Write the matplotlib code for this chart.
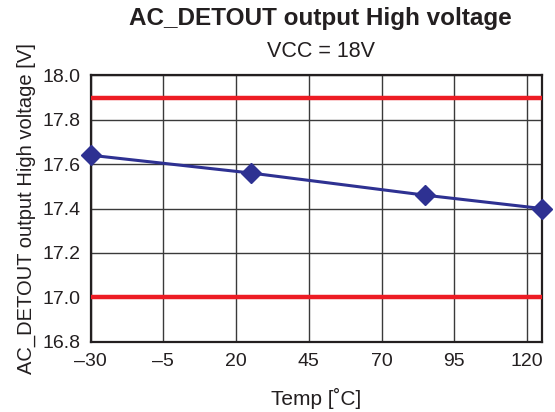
import matplotlib
matplotlib.use("Agg")
import matplotlib.pyplot as plt

plt.rcParams['font.family'] = ['Liberation Sans', 'DejaVu Sans']

temps = [-30, 25, 85, 125]
voltage = [17.64, 17.56, 17.46, 17.40]
limit_high = 17.9
limit_low = 17.0
x_ticks = [-30, -5, 20, 45, 70, 95, 120]
x_tick_labels = ['\u201330', '\u20135', '20', '45', '70', '95', '120']
y_ticks = [16.8, 17.0, 17.2, 17.4, 17.6, 17.8, 18.0]

fig = plt.figure(figsize=(5.55, 4.12), dpi=100)
ax = fig.add_axes([0.1634, 0.1706, 0.8126, 0.6466])

ax.set_xlim(-30, 125)
ax.set_ylim(16.8, 18.0)
ax.set_xticks(x_ticks)
ax.set_xticklabels(x_tick_labels)
ax.set_yticks(y_ticks)
ax.set_yticklabels([f'{v:.1f}' for v in y_ticks])
ax.tick_params(length=0, labelsize=14, colors='#231f20')
ax.tick_params(axis='x', pad=8)
ax.tick_params(axis='y', pad=7)

ax.grid(True, color='#3a3a3a', linewidth=1.0)
ax.set_axisbelow(True)
for s in ax.spines.values():
    s.set_linewidth(1.6)
    s.set_color('#231f20')

ax.axhline(limit_high, color='#ed1c24', linewidth=3.2, zorder=3)
ax.axhline(limit_low, color='#ed1c24', linewidth=3.2, zorder=3)

ax.plot(temps, voltage, color='#2e3192', linewidth=2.2, marker='D',
        markersize=10, zorder=4, clip_on=False)

ax.set_xlabel('Temp [\u02daC]', fontsize=15, color='#231f20', labelpad=13)
ax.set_ylabel('AC_DETOUT output High voltage [V]', fontsize=14.5,
              color='#231f20', labelpad=5)

fig.text(0.578, 0.939, 'AC_DETOUT output High voltage', ha='center',
         va='baseline', fontsize=17.5, fontweight='bold', color='#231f20')
fig.text(0.578, 0.862, 'VCC = 18V', ha='center', va='baseline',
         fontsize=15.5, color='#231f20')

fig.savefig('out.png', dpi=100)
